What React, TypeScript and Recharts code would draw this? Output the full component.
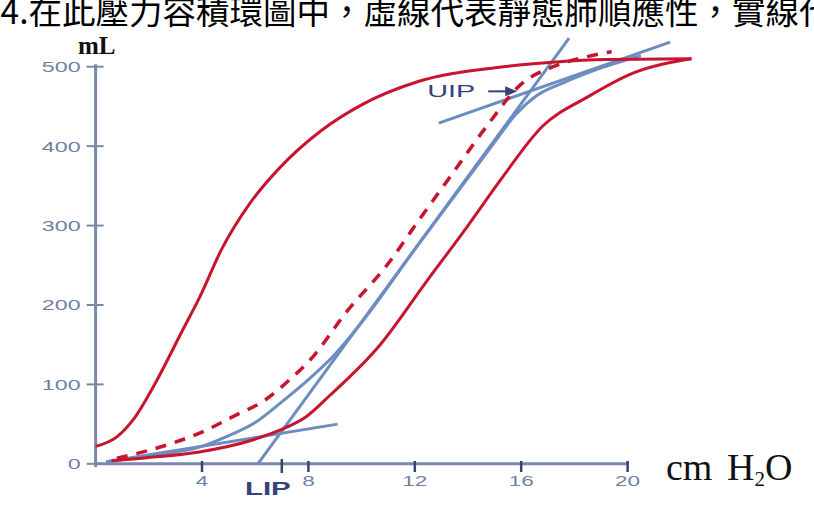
import React from "react";
import { LineChart, Line, XAxis, YAxis, ReferenceLine, ReferenceDot } from "recharts";

// pressure (cm H2O) / volume (mL)
const deflationLimb = [
  { p: 0, v: 22 }, { p: 0.8, v: 34 }, { p: 1.4, v: 55 }, { p: 2.3, v: 105 },
  { p: 3.25, v: 167 }, { p: 3.9, v: 209 }, { p: 4.75, v: 271 }, { p: 5.8, v: 328 },
  { p: 6.9, v: 372 }, { p: 8.5, v: 420 }, { p: 10.0, v: 452 }, { p: 12.1, v: 481 },
  { p: 15.1, v: 499 }, { p: 17.3, v: 506 }, { p: 19.2, v: 509 }, { p: 22.4, v: 510 },
];
const inflationLimb = [
  { p: 0.6, v: 4 }, { p: 2, v: 8 }, { p: 3.9, v: 15 }, { p: 5.9, v: 30 },
  { p: 6.9, v: 42 }, { p: 7.9, v: 59 }, { p: 8.8, v: 86 }, { p: 10.7, v: 150 },
  { p: 12.45, v: 230 }, { p: 14, v: 300 }, { p: 15.3, v: 361 }, { p: 16.8, v: 425 },
  { p: 18.5, v: 462 }, { p: 20.2, v: 492 }, { p: 22.4, v: 510 },
];
const staticCurve = [
  { p: 0.8, v: 7 }, { p: 2.8, v: 25 }, { p: 4.0, v: 40 }, { p: 5.2, v: 60 },
  { p: 6.4, v: 81 }, { p: 7.3, v: 106 }, { p: 8.2, v: 136 }, { p: 9.4, v: 190 },
  { p: 10.95, v: 250 }, { p: 12.2, v: 309 }, { p: 13.45, v: 367 }, { p: 14.7, v: 425 },
  { p: 16.0, v: 478 }, { p: 17.2, v: 500 }, { p: 18.4, v: 512 }, { p: 19.4, v: 519 },
];
const fittedCurve = [
  { p: 0.4, v: 2.5 }, { p: 2.2, v: 11 }, { p: 3.9, v: 21 }, { p: 4.9, v: 34 },
  { p: 6.0, v: 52 }, { p: 7.0, v: 78 }, { p: 8.0, v: 106 }, { p: 9.0, v: 138 },
  { p: 10.0, v: 178 }, { p: 12.0, v: 270 }, { p: 14.0, v: 360 }, { p: 15.0, v: 405 },
  { p: 15.8, v: 440 }, { p: 16.6, v: 464 }, { p: 17.6, v: 480 }, { p: 18.8, v: 496 },
  { p: 20.5, v: 514 },
];
const steepTangent = [{ p: 6.1, v: 0 }, { p: 17.8, v: 536 }];
const lipTangent = [{ p: 0.4, v: 2.5 }, { p: 9.1, v: 50 }];
const uipTangent = [{ p: 12.9, v: 429 }, { p: 21.6, v: 531 }];

const yTicks = [0, 100, 200, 300, 400, 500];
const xTicks = [4, 8, 12, 16, 20];
const lipPressure = 7;
const uipPoint = { p: 15.85, v: 469 };

const RED = "#c8142e";
const BLUE = "#6d8cc0";
const AXIS = "#7a88ab";
const LABEL = "#7180a4";
const NAVY = "#33437a";

const YTick = (props: any) => {
  const { x, y, payload } = props;
  return (
    <g>
      <line x1={x - 9} x2={x + 8} y1={y} y2={y} stroke={AXIS} strokeWidth={2} />
      <text
        transform={`translate(${x - 15},${y}) scale(1.55,1)`}
        textAnchor="end"
        dominantBaseline="central"
        fontFamily="Liberation Sans, Arial"
        fontSize={15}
        fill={LABEL}
      >
        {payload.value}
      </text>
    </g>
  );
};

const XTick = (props: any) => {
  const { x, y, payload } = props;
  if (payload.value === lipPressure) {
    return (
      <g>
        <line x1={x} x2={x} y1={y - 8} y2={y + 6} stroke={NAVY} strokeWidth={2.5} />
        <text
          transform={`translate(${x - 14},${y + 28}) scale(1.55,1)`}
          textAnchor="middle"
          fontFamily="Liberation Sans, Arial"
          fontWeight="bold"
          fontSize={19}
          fill={NAVY}
        >
          LIP
        </text>
      </g>
    );
  }
  return (
    <g>
      <line x1={x} x2={x} y1={y - 6} y2={y + 5} stroke={NAVY} strokeWidth={2.5} />
      <text
        transform={`translate(${x},${y + 19}) scale(1.5,1)`}
        textAnchor="middle"
        fontFamily="Liberation Sans, Arial"
        fontSize={15}
        fill={LABEL}
      >
        {payload.value}
      </text>
    </g>
  );
};

const UipArrow = (props: any) => {
  const { cx, cy } = props;
  return (
    <g>
      <text
        transform={`translate(${cx - 90},${cy + 6}) scale(1.8,1)`}
        fontFamily="Liberation Sans, Arial"
        fontSize={16}
        fill={NAVY}
      >
        UIP
      </text>
      <line x1={cx - 29} x2={cx - 8} y1={cy} y2={cy} stroke={NAVY} strokeWidth={2} />
      <path d={`M${cx},${cy} L${cx - 12},${cy - 5} L${cx - 12},${cy + 5} Z`} fill={NAVY} />
    </g>
  );
};

export default function App() {
  return (
    <div style={{ position: "absolute", left: 0, top: 0, width: 814, height: 521, overflow: "hidden", background: "#fff" }}>
      <div
        style={{
          position: "absolute",
          left: -18,
          top: -7,
          fontFamily: '"Noto Sans CJK TC", sans-serif',
          fontSize: 33.5,
          lineHeight: "33px",
          whiteSpace: "nowrap",
          color: "#000",
        }}
      >
        44.在此壓力容積環圖中，虛線代表靜態肺順應性，實線代表
      </div>
      <div
        style={{
          position: "absolute",
          left: 78,
          top: 33,
          fontFamily: '"Liberation Serif", serif',
          fontSize: 25,
          fontWeight: "bold",
          lineHeight: "25px",
          color: "#111",
        }}
      >
        mL
      </div>
      <div
        style={{
          position: "absolute",
          left: 666,
          top: 447,
          fontFamily: '"Liberation Serif", serif',
          fontSize: 38,
          lineHeight: "40px",
          wordSpacing: 5,
          whiteSpace: "nowrap",
          color: "#111",
        }}
      >
        cm H<sub style={{ fontSize: 21, verticalAlign: "-6px" }}>2</sub>O
      </div>
      <LineChart
        width={814}
        height={521}
        margin={{ top: 27, right: 26.8, bottom: 24, left: 35.6 }}
        style={{ position: "absolute", left: 0, top: 0 }}
      >
        <XAxis
          type="number"
          dataKey="p"
          domain={[0, 26]}
          ticks={[...xTicks, lipPressure]}
          interval={0}
          height={30}
          axisLine={false}
          tickLine={false}
          tickSize={0}
          tickMargin={0}
          tick={<XTick />}
        />
        <YAxis
          type="number"
          dataKey="v"
          domain={[0, 550]}
          ticks={yTicks}
          interval={0}
          width={60}
          axisLine={false}
          tickLine={false}
          tickSize={0}
          tickMargin={0}
          tick={<YTick />}
        />
        <ReferenceLine segment={[{ x: 0, y: 0 }, { x: 20.05, y: 0 }]} stroke={AXIS} strokeWidth={3} />
        <ReferenceLine segment={[{ x: 0, y: -4 }, { x: 0, y: 503 }]} stroke={AXIS} strokeWidth={3} ifOverflow="extendDomain" />
        <Line data={lipTangent} dataKey="v" type="linear" stroke={BLUE} strokeWidth={3} dot={false} isAnimationActive={false} />
        <Line data={uipTangent} dataKey="v" type="linear" stroke={BLUE} strokeWidth={3} dot={false} isAnimationActive={false} />
        <Line data={steepTangent} dataKey="v" type="linear" stroke={BLUE} strokeWidth={3} dot={false} isAnimationActive={false} />
        <Line data={fittedCurve} dataKey="v" type="monotone" stroke={BLUE} strokeWidth={3} dot={false} isAnimationActive={false} />
        <Line data={deflationLimb} dataKey="v" type="monotone" stroke={RED} strokeWidth={3} dot={false} isAnimationActive={false} />
        <Line data={inflationLimb} dataKey="v" type="monotone" stroke={RED} strokeWidth={3} dot={false} isAnimationActive={false} />
        <Line data={staticCurve} dataKey="v" type="monotone" stroke={RED} strokeWidth={3.5} strokeDasharray="11 9" dot={false} isAnimationActive={false} />
        <ReferenceDot x={uipPoint.p} y={uipPoint.v} r={0} shape={<UipArrow />} />
      </LineChart>
    </div>
  );
}
